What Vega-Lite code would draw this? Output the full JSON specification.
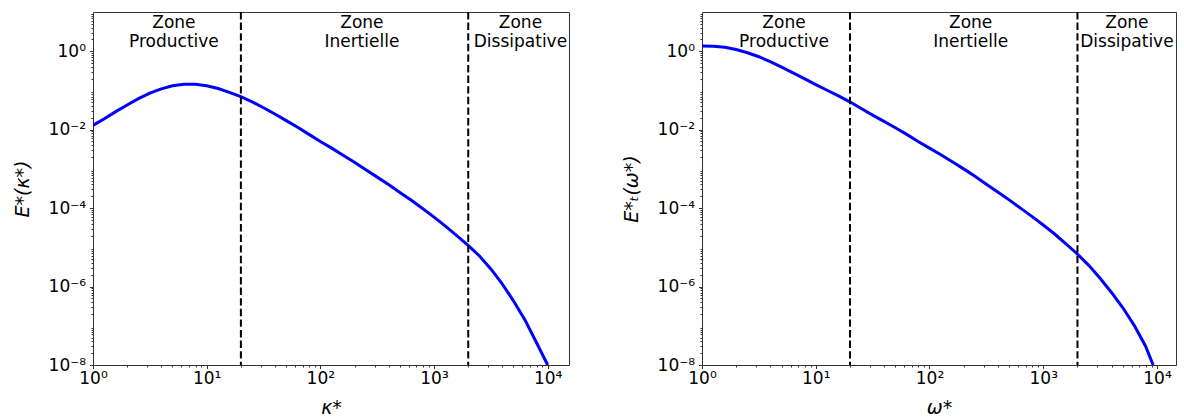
{
  "$schema": "https://vega.github.io/schema/vega-lite/v6.json",
  "padding": {"left": 12, "top": 4, "right": 5, "bottom": 0},
  "bounds": "flush",
  "spacing": 133,
  "config": {
    "font": "DejaVu Sans",
    "view": {"stroke": "#333333", "strokeWidth": 1},
    "axis": {
      "grid": false,
      "domain": false,
      "tickColor": "#333333",
      "tickWidth": 1,
      "labelFont": "DejaVu Sans",
      "labelFontSize": 17,
      "labelColor": "#000000",
      "labelFlush": false,
      "labelOverlap": false,
      "titleFont": "DejaVu Sans",
      "titleFontSize": 19,
      "titleFontStyle": "italic",
      "titleFontWeight": "normal",
      "titleColor": "#000000"
    },
    "axisX": {"labelPadding": 2, "titleX": 238, "titleY": 48, "titleBaseline": "alphabetic"},
    "axisY": {"labelPadding": 4, "titleX": -61, "titleY": 176.5}
  },
  "datasets": {
    "left": [
      {"x": 1, "y": 0.01288}, {"x": 1.259, "y": 0.01905}, {"x": 1.585, "y": 0.02884}, {"x": 1.995, "y": 0.04266},
      {"x": 2.512, "y": 0.06166}, {"x": 3.162, "y": 0.08511}, {"x": 3.981, "y": 0.1096}, {"x": 5.012, "y": 0.1318},
      {"x": 6.31, "y": 0.1445}, {"x": 7.943, "y": 0.1445}, {"x": 10, "y": 0.1318}, {"x": 12.59, "y": 0.1122},
      {"x": 15.85, "y": 0.08913}, {"x": 19.95, "y": 0.06918}, {"x": 25.12, "y": 0.05129}, {"x": 31.62, "y": 0.03631},
      {"x": 39.81, "y": 0.02512}, {"x": 50.12, "y": 0.01698}, {"x": 63.1, "y": 0.01148}, {"x": 79.43, "y": 0.007586},
      {"x": 100, "y": 0.005012}, {"x": 125.9, "y": 0.003388}, {"x": 158.5, "y": 0.002239}, {"x": 199.5, "y": 0.001479},
      {"x": 251.2, "y": 0.000955}, {"x": 316.2, "y": 0.0006166}, {"x": 398.1, "y": 0.0003981}, {"x": 501.2, "y": 0.0002512},
      {"x": 631, "y": 0.0001585}, {"x": 794.3, "y": 0.00009772}, {"x": 1000, "y": 0.00005888}, {"x": 1259, "y": 0.00003467},
      {"x": 1585, "y": 0.00001995}, {"x": 1995, "y": 0.00001122}, {"x": 2512, "y": 0.000006026}, {"x": 3162, "y": 0.000002818},
      {"x": 3981, "y": 0.000001175}, {"x": 5012, "y": 4.266e-7}, {"x": 6310, "y": 1.413e-7}, {"x": 7943, "y": 3.802e-8},
      {"x": 10000, "y": 1e-8}
    ],
    "right": [
      {"x": 1, "y": 1.365}, {"x": 1.259, "y": 1.343}, {"x": 1.585, "y": 1.259}, {"x": 1.995, "y": 1.109},
      {"x": 2.512, "y": 0.912}, {"x": 3.162, "y": 0.7244}, {"x": 3.981, "y": 0.5433}, {"x": 5.012, "y": 0.3936},
      {"x": 6.31, "y": 0.2818}, {"x": 7.943, "y": 0.1995}, {"x": 10, "y": 0.1413}, {"x": 12.59, "y": 0.1012},
      {"x": 15.85, "y": 0.07244}, {"x": 19.95, "y": 0.05129}, {"x": 25.12, "y": 0.03467}, {"x": 31.62, "y": 0.02344},
      {"x": 39.81, "y": 0.01622}, {"x": 50.12, "y": 0.01122}, {"x": 63.1, "y": 0.007586}, {"x": 79.43, "y": 0.005012},
      {"x": 100, "y": 0.003388}, {"x": 125.9, "y": 0.002291}, {"x": 158.5, "y": 0.001514}, {"x": 199.5, "y": 0.001},
      {"x": 251.2, "y": 0.0006457}, {"x": 316.2, "y": 0.0004074}, {"x": 398.1, "y": 0.000257}, {"x": 501.2, "y": 0.0001622},
      {"x": 631, "y": 0.0001}, {"x": 794.3, "y": 0.00006166}, {"x": 1000, "y": 0.00003715}, {"x": 1259, "y": 0.00002188},
      {"x": 1585, "y": 0.0000123}, {"x": 1995, "y": 0.000006761}, {"x": 2512, "y": 0.000003467}, {"x": 3162, "y": 0.000001622},
      {"x": 3981, "y": 7.079e-7}, {"x": 5012, "y": 2.884e-7}, {"x": 6310, "y": 1.023e-7}, {"x": 7943, "y": 3.02e-8},
      {"x": 9250, "y": 1e-8}
    ],
    "bounds": [{"x": 20}, {"x": 2000}],
    "zonesLeft": [
      {"x": 5.15, "t": "Zone\nProductive"},
      {"x": 232, "t": "Zone\nInertielle"},
      {"x": 5760, "t": "Zone\nDissipative"}
    ],
    "zonesRight": [
      {"x": 5.26, "t": "Zone\nProductive"},
      {"x": 230, "t": "Zone\nInertielle"},
      {"x": 5445, "t": "Zone\nDissipative"}
    ]
  },
  "hconcat": [
    {
      "width": 476,
      "height": 353,
      "layer": [
        {
          "data": {"name": "left"},
          "mark": {"type": "line", "color": "#0000ff", "strokeWidth": 3, "clip": true},
          "encoding": {
            "x": {
              "field": "x", "type": "quantitative",
              "scale": {"type": "log", "domain": [1, 15400], "nice": false},
              "axis": {
                "title": "κ*",
                "values": [1,2,3,4,5,6,7,8,9,10,20,30,40,50,60,70,80,90,100,200,300,400,500,600,700,800,900,1000,2000,3000,4000,5000,6000,7000,8000,9000,10000],
                "labelExpr": "abs(log(datum.value)/LN10 - round(log(datum.value)/LN10)) > 0.001 ? '' : '10' + replace(replace(replace(replace(replace(''+round(log(datum.value)/LN10), '0', '⁰'), '1', '¹'), '2', '²'), '3', '³'), '4', '⁴')",
                "tickSize": {"condition": {"test": "abs(log(datum.value)/LN10 - round(log(datum.value)/LN10)) < 0.001", "value": 3.5}, "value": 2}
              }
            },
            "y": {
              "field": "y", "type": "quantitative",
              "scale": {"type": "log", "domain": [1e-8, 10], "nice": false},
              "axis": {
                "title": "E*(κ*)",
                "values": [1e-8,2e-8,3e-8,4e-8,5e-8,6e-8,7e-8,8e-8,9e-8,2e-7,3e-7,4e-7,5e-7,6e-7,7e-7,8e-7,9e-7,1e-6,2e-6,3e-6,4e-6,5e-6,6e-6,7e-6,8e-6,9e-6,2e-5,3e-5,4e-5,5e-5,6e-5,7e-5,8e-5,9e-5,1e-4,2e-4,3e-4,4e-4,5e-4,6e-4,7e-4,8e-4,9e-4,2e-3,3e-3,4e-3,5e-3,6e-3,7e-3,8e-3,9e-3,1e-2,2e-2,3e-2,4e-2,5e-2,6e-2,7e-2,8e-2,9e-2,0.2,0.3,0.4,0.5,0.6,0.7,0.8,0.9,1,2,3,4,5,6,7,8,9],
                "labelExpr": "abs(log(datum.value)/LN10 - round(log(datum.value)/LN10)) > 0.001 ? '' : '10' + replace(replace(replace(replace(replace(replace(''+round(log(datum.value)/LN10), '-', '⁻'), '0', '⁰'), '2', '²'), '4', '⁴'), '6', '⁶'), '8', '⁸')",
                "tickSize": {"condition": {"test": "abs(log(datum.value)/LN10 - round(log(datum.value)/LN10)) < 0.001", "value": 3.5}, "value": 2}
              }
            }
          }
        },
        {
          "data": {"name": "bounds"},
          "mark": {"type": "rule", "color": "#000000", "strokeWidth": 2, "strokeDash": [7.4, 3.2]},
          "encoding": {"x": {"field": "x", "type": "quantitative"}}
        },
        {
          "data": {"name": "zonesLeft"},
          "mark": {"type": "text", "fontSize": 17, "font": "DejaVu Sans", "color": "#000000", "align": "center", "baseline": "top", "dy": 3, "lineBreak": "\n", "lineHeight": 18.5},
          "encoding": {
            "x": {"field": "x", "type": "quantitative"},
            "y": {"datum": 10, "type": "quantitative"},
            "text": {"field": "t", "type": "nominal"}
          }
        }
      ]
    },
    {
      "width": 474,
      "height": 353,
      "layer": [
        {
          "data": {"name": "right"},
          "mark": {"type": "line", "color": "#0000ff", "strokeWidth": 3, "clip": true},
          "encoding": {
            "x": {
              "field": "x", "type": "quantitative",
              "scale": {"type": "log", "domain": [1, 14700], "nice": false},
              "axis": {
                "title": "ω*",
                "titleX": 237,
                "values": [1,2,3,4,5,6,7,8,9,10,20,30,40,50,60,70,80,90,100,200,300,400,500,600,700,800,900,1000,2000,3000,4000,5000,6000,7000,8000,9000,10000],
                "labelExpr": "abs(log(datum.value)/LN10 - round(log(datum.value)/LN10)) > 0.001 ? '' : '10' + replace(replace(replace(replace(replace(''+round(log(datum.value)/LN10), '0', '⁰'), '1', '¹'), '2', '²'), '3', '³'), '4', '⁴')",
                "tickSize": {"condition": {"test": "abs(log(datum.value)/LN10 - round(log(datum.value)/LN10)) < 0.001", "value": 3.5}, "value": 2}
              }
            },
            "y": {
              "field": "y", "type": "quantitative",
              "scale": {"type": "log", "domain": [1e-8, 10], "nice": false},
              "axis": {
                "title": "E*ₜ(ω*)",
                "values": [1e-8,2e-8,3e-8,4e-8,5e-8,6e-8,7e-8,8e-8,9e-8,2e-7,3e-7,4e-7,5e-7,6e-7,7e-7,8e-7,9e-7,1e-6,2e-6,3e-6,4e-6,5e-6,6e-6,7e-6,8e-6,9e-6,2e-5,3e-5,4e-5,5e-5,6e-5,7e-5,8e-5,9e-5,1e-4,2e-4,3e-4,4e-4,5e-4,6e-4,7e-4,8e-4,9e-4,2e-3,3e-3,4e-3,5e-3,6e-3,7e-3,8e-3,9e-3,1e-2,2e-2,3e-2,4e-2,5e-2,6e-2,7e-2,8e-2,9e-2,0.2,0.3,0.4,0.5,0.6,0.7,0.8,0.9,1,2,3,4,5,6,7,8,9],
                "labelExpr": "abs(log(datum.value)/LN10 - round(log(datum.value)/LN10)) > 0.001 ? '' : '10' + replace(replace(replace(replace(replace(replace(''+round(log(datum.value)/LN10), '-', '⁻'), '0', '⁰'), '2', '²'), '4', '⁴'), '6', '⁶'), '8', '⁸')",
                "tickSize": {"condition": {"test": "abs(log(datum.value)/LN10 - round(log(datum.value)/LN10)) < 0.001", "value": 3.5}, "value": 2}
              }
            }
          }
        },
        {
          "data": {"name": "bounds"},
          "mark": {"type": "rule", "color": "#000000", "strokeWidth": 2, "strokeDash": [7.4, 3.2]},
          "encoding": {"x": {"field": "x", "type": "quantitative"}}
        },
        {
          "data": {"name": "zonesRight"},
          "mark": {"type": "text", "fontSize": 17, "font": "DejaVu Sans", "color": "#000000", "align": "center", "baseline": "top", "dy": 3, "lineBreak": "\n", "lineHeight": 18.5},
          "encoding": {
            "x": {"field": "x", "type": "quantitative"},
            "y": {"datum": 10, "type": "quantitative"},
            "text": {"field": "t", "type": "nominal"}
          }
        }
      ]
    }
  ]
}
